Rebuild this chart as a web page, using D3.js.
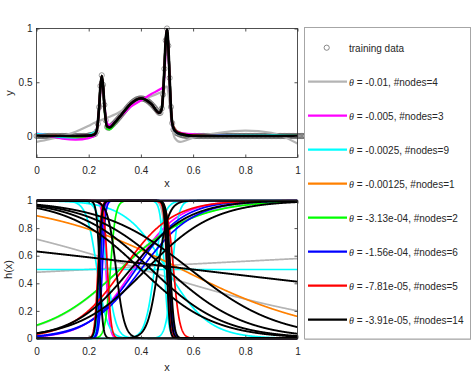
<!DOCTYPE html>
<html>
<head>
<meta charset="utf-8" />
<title>fits and hidden nodes</title>
<script src="https://cdn.jsdelivr.net/npm/d3@7"></script>
<style>
  body { margin: 0; background: #fff; }
  svg text { font-family: "Liberation Sans", Arial, sans-serif; fill: #262626; }
  .ax line { stroke: #262626; stroke-width: 0.8; }
  .ax path { display: none; }
  .ax text { font-size: 10px; }
</style>
</head>
<body>
<svg id="chart" width="475" height="381"></svg>
<script>
// legend entries, one per theta
var runThetas = ["-0.01", "-0.005", "-0.0025", "-0.00125", "-3.13e-04", "-1.56e-04", "-7.81e-05", "-3.91e-05"];
var runNodes = [4, 3, 9, 1, 2, 6, 5, 14];
var runColors = ["#b4b4b4", "#ff00ff", "#00ffff", "#ff8000", "#00ff00", "#0000ff", "#ff0000", "#000000"];

// training data, x = 0, 0.005, ..., 1
var trainY = [
  0, 0, 0, 0, 0, 0, 0, 0, 0, 0, 0, 0, 0, 0, 0, 0, 0, 0, 0, 0,
  0, 0, 0, 0, 0, 0, 0, 0, 0, 0, 0, 0, 0, 0, 0, 0, 0, 0, 0, 0,
  0.005, 0.007, 0.009, 0.012, 0.015, 0.019, 0.041, 0.113, 0.269, 0.465,
  0.565, 0.476, 0.29, 0.146, 0.085, 0.075, 0.081, 0.091, 0.102, 0.114,
  0.126, 0.139, 0.153, 0.167, 0.182, 0.197, 0.212, 0.227, 0.242, 0.257,
  0.271, 0.285, 0.297, 0.309, 0.319, 0.328, 0.336, 0.342, 0.346, 0.349,
  0.35, 0.349, 0.346, 0.342, 0.336, 0.328, 0.319, 0.309, 0.297, 0.285,
  0.271, 0.257, 0.242, 0.227, 0.215, 0.215, 0.256, 0.385, 0.625, 0.889,
  1.0, 0.84, 0.54, 0.27, 0.12, 0.06, 0.04, 0.03, 0.024, 0.018,
  0.013, 0.009, 0.006, 0.004, 0.002, 0, 0, 0, 0, 0,
  0, 0, 0, 0, 0, 0, 0, 0, 0, 0, 0, 0, 0, 0, 0, 0, 0, 0, 0, 0,
  0, 0, 0, 0, 0, 0, 0, 0, 0, 0, 0, 0, 0, 0, 0, 0, 0, 0, 0, 0,
  0, 0, 0, 0, 0, 0, 0, 0, 0, 0, 0, 0, 0, 0, 0, 0, 0, 0, 0, 0,
  0, 0, 0, 0, 0, 0, 0, 0, 0, 0, 0, 0, 0, 0, 0, 0, 0, 0, 0, 0,
  0, 0, 0, 0, 0, 0, 0
];

// network outputs, sampled at fitX
var fitX = [0, 0.05, 0.1, 0.15, 0.2, 0.22, 0.23, 0.24, 0.245, 0.25, 0.255, 0.26, 0.27, 0.28, 0.3, 0.33, 0.36, 0.4, 0.44, 0.47,
            0.48, 0.485, 0.49, 0.495, 0.5, 0.505, 0.51, 0.515, 0.52, 0.53, 0.55, 0.6, 0.7, 0.8, 0.9, 1];
var fitGray = [-0.055, -0.03, 0.0, 0.04, 0.095, 0.12, 0.13, 0.14, 0.145, 0.15, 0.155, 0.16, 0.17, 0.18, 0.2, 0.24, 0.28, 0.33, 0.37, 0.4,
               0.41, 0.42, 0.44, 0.46, 0.46, 0.4, 0.3, 0.18, 0.08, -0.02, -0.055, -0.015, 0.03, 0.05, 0.03, -0.07];
var fitMagenta = [0.025, 0.0, -0.025, -0.035, -0.02, 0.0, 0.05, 0.25, 0.42, 0.5, 0.45, 0.3, 0.12, 0.1, 0.13, 0.2, 0.27, 0.33, 0.39, 0.43,
                  0.445, 0.46, 0.55, 0.8, 0.97, 0.85, 0.5, 0.25, 0.1, 0.05, 0.03, 0.015, 0.005, 0.0, 0.0, 0.0];
var fitCyan = [0.02, 0.005, -0.01, -0.012, 0.01, 0.03, 0.05, 0.27, 0.46, 0.56, 0.47, 0.29, 0.085, 0.08, 0.125, 0.212, 0.297, 0.35, 0.297, 0.215,
               0.255, 0.385, 0.625, 0.885, 0.99, 0.84, 0.54, 0.27, 0.12, 0.045, 0.015, 0.005, 0.004, 0.003, 0.005, 0.008];
var fitOrange = [0.005, 0.003, 0.0, -0.005, 0.0, 0.02, 0.045, 0.265, 0.46, 0.56, 0.47, 0.29, 0.085, 0.08, 0.125, 0.212, 0.297, 0.35, 0.297, 0.215,
                 0.255, 0.385, 0.625, 0.885, 0.99, 0.84, 0.54, 0.27, 0.12, 0.045, 0.015, 0.003, 0.0, 0.0, 0.0, 0.002];
var fitGreen = [0.003, 0.002, 0.0, -0.003, 0.002, 0.015, 0.045, 0.27, 0.46, 0.56, 0.47, 0.28, 0.07, 0.062, 0.115, 0.21, 0.297, 0.35, 0.297, 0.215,
                0.255, 0.385, 0.625, 0.885, 0.99, 0.84, 0.54, 0.27, 0.12, 0.05, 0.018, 0.003, 0.0, 0.0, 0.0, 0.003];
var fitBlue = [0.003, 0.001, 0.0, 0.0, 0.003, 0.013, 0.043, 0.27, 0.46, 0.56, 0.47, 0.29, 0.088, 0.08, 0.125, 0.212, 0.297, 0.35, 0.297, 0.215,
               0.255, 0.385, 0.625, 0.888, 0.995, 0.84, 0.54, 0.27, 0.12, 0.048, 0.016, 0.002, 0.0, 0.0, 0.0, 0.002];
var fitRed = [0.002, 0.001, 0.0, 0.0, 0.003, 0.013, 0.043, 0.27, 0.46, 0.56, 0.47, 0.29, 0.088, 0.08, 0.125, 0.212, 0.297, 0.35, 0.297, 0.215,
              0.255, 0.385, 0.625, 0.888, 0.995, 0.84, 0.54, 0.27, 0.125, 0.06, 0.025, 0.005, 0.0, 0.0, 0.0, 0.001];
var fitBlack = [0.0, 0.0, 0.0, 0.0, 0.003, 0.012, 0.045, 0.27, 0.46, 0.56, 0.47, 0.29, 0.09, 0.08, 0.125, 0.212, 0.297, 0.35, 0.298, 0.215,
                0.255, 0.385, 0.625, 0.89, 0.995, 0.84, 0.54, 0.27, 0.12, 0.05, 0.02, 0.002, 0.0, 0.0, 0.0, 0.0];

// hidden nodes h(x) of each run: [centre, width] of the sigmoid (negative width = falling)
var nodesGray = [[0.405, -0.43], [0.2, 2.5], [0.32, 0.14], [0.5, -0.008]];
var nodesMagenta = [[0.266, -0.007], [0.37, 0.085], [0.245, 0.006]];
var nodesCyan = [[0.5, 1e6], [0.232, -0.02], [0.27, -0.017], [0.452, 0.018], [0.49, -0.008], [0.5, -0.08],
                 [0.24, 0.005], [0.505, -0.005], [0.52, 0.012]];
var nodesOrange = [[0.557, -0.267]];
var nodesGreen = [[0.32, 0.143], [0.283, 0.01]];
var nodesBlue = [[0.252, 0.006], [0.4, 0.1], [0.38, 0.09], [0.245, 0.005], [0.505, -0.006], [0.51, -0.007]];
var nodesRed = [[0.272, -0.007], [0.525, -0.012], [0.33, 0.095], [0.235, 0.006], [0.5, -0.006]];
var nodesBlack = [[0.238, 0.006], [0.242, -0.006], [0.5, -0.005], [0.507, -0.006], [0.513, -0.007], [0.305, -0.016],
                  [0.465, 0.02], [0.4, -0.14], [0.44, -0.14], [0.5, -0.15], [0.6, -1.12], [0.59, -0.17], [0.36, 0.11], [0.42, 0.13]];

var fits = [fitGray, fitMagenta, fitCyan, fitOrange, fitGreen, fitBlue, fitRed, fitBlack];
var nodes = [nodesGray, nodesMagenta, nodesCyan, nodesOrange, nodesGreen, nodesBlue, nodesRed, nodesBlack];

var svg = d3.select("#chart");
var fmt = d3.format("~g");

// plot boxes
var left = 36.5, right = 297.5;
var x = d3.scaleLinear().domain([0, 1]).range([left, right]);
var yTop = d3.scaleLinear().domain([-0.2, 1]).range([157.5, 28.5]);
var yBot = d3.scaleLinear().domain([0, 1]).range([338.5, 200.5]);

function drawAxes(y, yTicks, top, bottom) {
  svg.append("g").attr("class", "ax")
    .attr("transform", "translate(0," + bottom + ")")
    .call(d3.axisBottom(x).tickValues([0, 0.2, 0.4, 0.6, 0.8, 1]).tickFormat(fmt).tickSize(-3).tickPadding(9));
  svg.append("g").attr("class", "ax")
    .attr("transform", "translate(0," + top + ")")
    .call(d3.axisTop(x).tickValues([0, 0.2, 0.4, 0.6, 0.8, 1]).tickSize(-3).tickFormat(""));
  svg.append("g").attr("class", "ax")
    .attr("transform", "translate(" + left + ",0)")
    .call(d3.axisLeft(y).tickValues(yTicks).tickFormat(fmt).tickSize(-3).tickPadding(4));
  svg.append("g").attr("class", "ax")
    .attr("transform", "translate(" + right + ",0)")
    .call(d3.axisRight(y).tickValues(yTicks).tickSize(-3).tickFormat(""));
  svg.append("rect")
    .attr("x", left).attr("y", top)
    .attr("width", right - left).attr("height", bottom - top)
    .attr("fill", "none").attr("stroke", "#262626").attr("stroke-width", 0.8);
}

// clip for the line plots
var defs = svg.append("defs");
defs.append("clipPath").attr("id", "clipTop").append("rect")
  .attr("x", left).attr("y", 27).attr("width", right - left).attr("height", 131.5);
defs.append("clipPath").attr("id", "clipBot").append("rect")
  .attr("x", left).attr("y", 199.5).attr("width", right - left).attr("height", 140);

// ---- top: training data and fits
var topG = svg.append("g");
var trainPts = trainY.map(function(v, i) { return [i / 200, v]; });
topG.selectAll("circle.train")
  .data(trainPts)
  .enter().append("circle")
  .attr("class", "train")
  .attr("cx", function(d) { return x(d[0]); })
  .attr("cy", function(d) { return yTop(d[1]); })
  .attr("r", 2.6)
  .attr("fill", "none")
  .attr("stroke", "#5a5a5a")
  .attr("stroke-width", 0.6);

var fitLine = d3.line()
  .x(function(d) { return x(d[0]); })
  .y(function(d) { return yTop(d[1]); })
  .curve(d3.curveMonotoneX);

var fitG = topG.append("g").attr("clip-path", "url(#clipTop)");
fits.forEach(function(f, k) {
  fitG.append("path")
    .datum(fitX.map(function(xv, i) { return [xv, f[i]]; }))
    .attr("fill", "none")
    .attr("stroke", runColors[k])
    .attr("stroke-width", k == 7 ? 2.7 : 2.2)
    .attr("stroke-linejoin", "round")
    .attr("d", fitLine);
});

drawAxes(yTop, [0, 0.5, 1], 28.5, 157.5);

// ---- bottom: hidden node functions
var xs = d3.range(0, 1.0005, 0.001);
var nodeLine = d3.line()
  .x(function(d) { return x(d[0]); })
  .y(function(d) { return yBot(d[1]); });

var botG = svg.append("g").attr("clip-path", "url(#clipBot)");
nodes.forEach(function(list, k) {
  list.forEach(function(nd) {
    var pts = xs.map(function(v) { return [v, 1 / (1 + Math.exp(-(v - nd[0]) / nd[1]))]; });
    botG.append("path")
      .datum(pts)
      .attr("fill", "none")
      .attr("stroke", runColors[k])
      .attr("stroke-width", k == 7 ? 1.9 : 1.7)
      .attr("d", nodeLine);
  });
});

drawAxes(yBot, [0, 0.2, 0.4, 0.6, 0.8, 1], 200.5, 338.5);

// axis labels
svg.append("text").attr("x", 167).attr("y", 187).attr("text-anchor", "middle")
  .style("font-size", "11px").text("x");
svg.append("text").attr("x", 167).attr("y", 371).attr("text-anchor", "middle")
  .style("font-size", "11px").text("x");
svg.append("text").attr("transform", "translate(13,93) rotate(-90)").attr("text-anchor", "middle")
  .style("font-size", "11px").text("y");
svg.append("text").attr("transform", "translate(12,269.5) rotate(-90)").attr("text-anchor", "middle")
  .style("font-size", "11px").text("h(x)");

// ---- legend
var lg = svg.append("g");
lg.append("rect")
  .attr("x", 304.5).attr("y", 27.5).attr("width", 166).attr("height", 311.5)
  .attr("fill", "#fff").attr("stroke", "#a6a6a6").attr("stroke-width", 1);
lg.append("line")
  .attr("x1", 305).attr("x2", 471).attr("y1", 339.5).attr("y2", 339.5)
  .attr("stroke", "#b8b8b8").attr("stroke-width", 1);

var rowY = function(i) { return 47.7 + i * 34; };
lg.append("circle").attr("cx", 326.7).attr("cy", rowY(0)).attr("r", 2.6)
  .attr("fill", "none").attr("stroke", "#5a5a5a").attr("stroke-width", 0.7);
lg.append("text").attr("x", 349).attr("y", rowY(0) + 4.5)
  .style("font-size", "10px").text("training data");

runThetas.forEach(function(t, k) {
  var yy = rowY(k + 1);
  lg.append("line")
    .attr("x1", 308).attr("x2", 347).attr("y1", yy).attr("y2", yy)
    .attr("stroke", runColors[k]).attr("stroke-width", 2.2);
  var tx = lg.append("text").attr("x", 349).attr("y", yy + 4).style("font-size", "10px");
  tx.append("tspan").style("font-family", "'Liberation Serif', 'DejaVu Serif', serif")
    .style("font-style", "italic").text("\u03b8");
  tx.append("tspan").text(" = " + t + ", #nodes=" + runNodes[k]);
});
</script>
</body>
</html>
